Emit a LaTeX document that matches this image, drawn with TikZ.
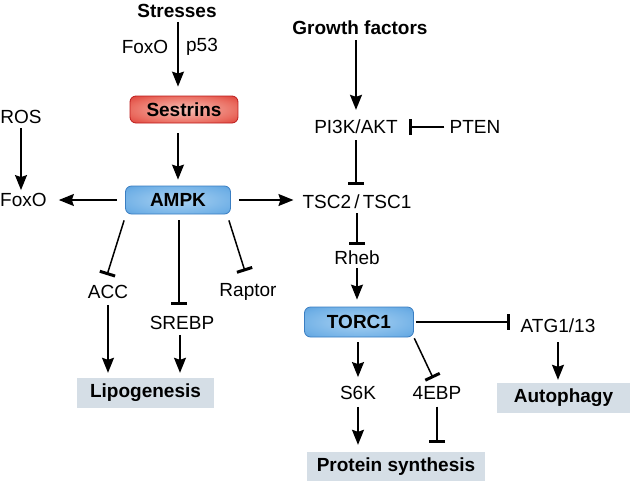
\documentclass[tikz,border=0pt]{standalone}
\usepackage{fontspec}
\setmainfont{Liberation Sans}
\usetikzlibrary{arrows.meta,calc}
\definecolor{ampkL}{RGB}{170,210,242}
\definecolor{ampkM}{RGB}{112,176,230}
\definecolor{ampkD}{RGB}{68,144,212}
\definecolor{ampkB}{RGB}{58,126,194}
\definecolor{sestL}{RGB}{246,192,182}
\definecolor{sestM}{RGB}{234,108,96}
\definecolor{sestD}{RGB}{214,40,34}
\definecolor{sestB}{RGB}{188,28,28}
\definecolor{outbox}{RGB}{213,222,230}
\pgfdeclareradialshading{ampkshade}{\pgfpoint{0bp}{0bp}}{color(0bp)=(ampkL); color(28bp)=(ampkM); color(46bp)=(ampkD); color(72bp)=(ampkD)}
\pgfdeclareradialshading{sestshade}{\pgfpoint{0bp}{0bp}}{color(0bp)=(sestL); color(25bp)=(sestM); color(42bp)=(sestD); color(72bp)=(sestD)}
\begin{document}
\begin{tikzpicture}[x=1pt,y=-1pt,
  lbl/.style={font=\fontsize{19}{22}\selectfont, inner sep=0pt},
  hdr/.style={font=\bfseries\fontsize{19}{22}\selectfont, inner sep=0pt},
  bluebox/.style={shading=ampkshade, draw=ampkB, line width=0.8pt, rounded corners=6pt,
    inner sep=0pt, font=\bfseries\fontsize{19}{22}\selectfont},
  redbox/.style={shading=sestshade, draw=sestB, line width=0.8pt, rounded corners=6pt,
    inner sep=0pt, font=\bfseries\fontsize{19}{22}\selectfont},
  outcome/.style={fill=outbox, inner sep=0pt, font=\bfseries\fontsize{19}{22}\selectfont},
  act/.style={line width=1.5pt, -{Stealth[length=15pt,width=12pt,inset=2pt]}},
  inh/.style={line width=1.5pt, -{Bar[width=16pt,line width=3pt]}}
]
\useasboundingbox (0,0) rectangle (633,483);

% nodes
\node[hdr] (stress) at (177,11) {Stresses};
\node[lbl] (lfoxo) at (145,47) {FoxO};
\node[lbl] (lp53) at (202,47) {p53};
\node[redbox, minimum width=108pt, minimum height=27pt] (sest) at (184,109.5) {Sestrins};
\node[bluebox, minimum width=105pt, minimum height=28pt] (ampk) at (178,200) {AMPK};
\node[lbl] (ros) at (21,117) {ROS};
\node[lbl, anchor=west] (foxo) at (0,200) {FoxO};
\node[lbl] (tsc) at (357,202) {TSC2\,/\,TSC1};
\node[lbl] (acc) at (108,292) {ACC};
\node[lbl] (srebp) at (182,323) {SREBP};
\node[lbl] (raptor) at (248,292) {Raptor};
\node[outcome, minimum width=137pt, minimum height=30pt] (lipo) at (145.5,393) {Lipogenesis};
\node[hdr] (gf) at (360,28) {Growth factors};
\node[lbl] (pi3k) at (356,127) {PI3K/AKT};
\node[lbl] (pten) at (475,127) {PTEN};
\node[lbl] (rheb) at (357,258) {Rheb};
\node[bluebox, minimum width=109pt, minimum height=30pt] (torc) at (359,322) {TORC1};
\node[lbl] (atg) at (558,326) {ATG1/13};
\node[outcome, minimum width=133pt, minimum height=30pt] (auto) at (563.5,398) {Autophagy};
\node[lbl] (s6k) at (358,393) {S6K};
\node[lbl] (ebp) at (437,393) {4EBP};
\node[outcome, minimum width=178pt, minimum height=29pt] (prot) at (396,466.5) {Protein synthesis};

% left branch
\draw[act, shorten <=4pt, shorten >=9pt] ($(stress.south)+(1,0)$) -- ($(stress.south |- sest.north)+(1,0)$);
\draw[act, shorten <=10pt, shorten >=6pt] (sest.south -| ampk.north) -- (ampk.north);
\draw[act, shorten <=8pt, shorten >=12pt] (ampk.west) -- (ampk.west -| foxo.east);
\draw[act, shorten <=4pt, shorten >=3pt] (ros.south) -- (ros.south |- foxo.north);
\draw[act, shorten <=8pt, shorten >=9pt] (ampk.east) -- (ampk.east -| tsc.west);
\draw[inh] ($(ampk.south west)+(-1,6)$) -- ($(acc.north)+(-1,-10)$);
\draw[inh] ($(ampk.south)+(1,6)$) -- ($(ampk.south |- srebp.north)+(1,-11)$);
\draw[inh] ($(ampk.south east)+(-2,6)$) -- ($(raptor.north)+(-3,-12)$);
\draw[act, shorten <=6pt, shorten >=5pt] (acc.south) -- (acc.south |- lipo.north);
\draw[act, shorten <=5pt, shorten >=5pt] ($(srebp.south)+(-2,0)$) -- ($(srebp.south |- lipo.north)+(-2,0)$);

% right branch
\draw[act, shorten <=5pt, shorten >=10pt] (gf.south -| pi3k.north) -- (pi3k.north);
\draw[inh, shorten <=5pt, shorten >=11pt] (pten.west) -- (pten.west -| pi3k.east);
\draw[inh, shorten <=6pt, shorten >=10pt] (pi3k.south) -- (pi3k.south |- tsc.north);
\draw[inh, shorten <=4pt, shorten >=6pt] (tsc.south) -- (tsc.south |- rheb.north);
\draw[act, shorten <=3pt, shorten >=7pt] (rheb.south) -- (rheb.south |- torc.north);
\draw[act, shorten <=5pt, shorten >=9pt] ($(torc.south)+(-1,0)$) -- ($(torc.south |- s6k.north)+(-1,0)$);
\draw[inh, shorten <=1pt, shorten >=9pt] (torc.south east) -- (ebp.north);
\draw[inh, shorten <=2pt, shorten >=10pt] (torc.east) -- (torc.east -| atg.west);
\draw[act, shorten <=9pt, shorten >=3pt] (atg.south) -- (atg.south |- auto.north);
\draw[act, shorten <=7pt, shorten >=7pt] (s6k.south) -- (s6k.south |- prot.north);
\draw[inh, shorten <=7pt, shorten >=9pt] (ebp.south) -- (ebp.south |- prot.north);
\end{tikzpicture}
\end{document}
